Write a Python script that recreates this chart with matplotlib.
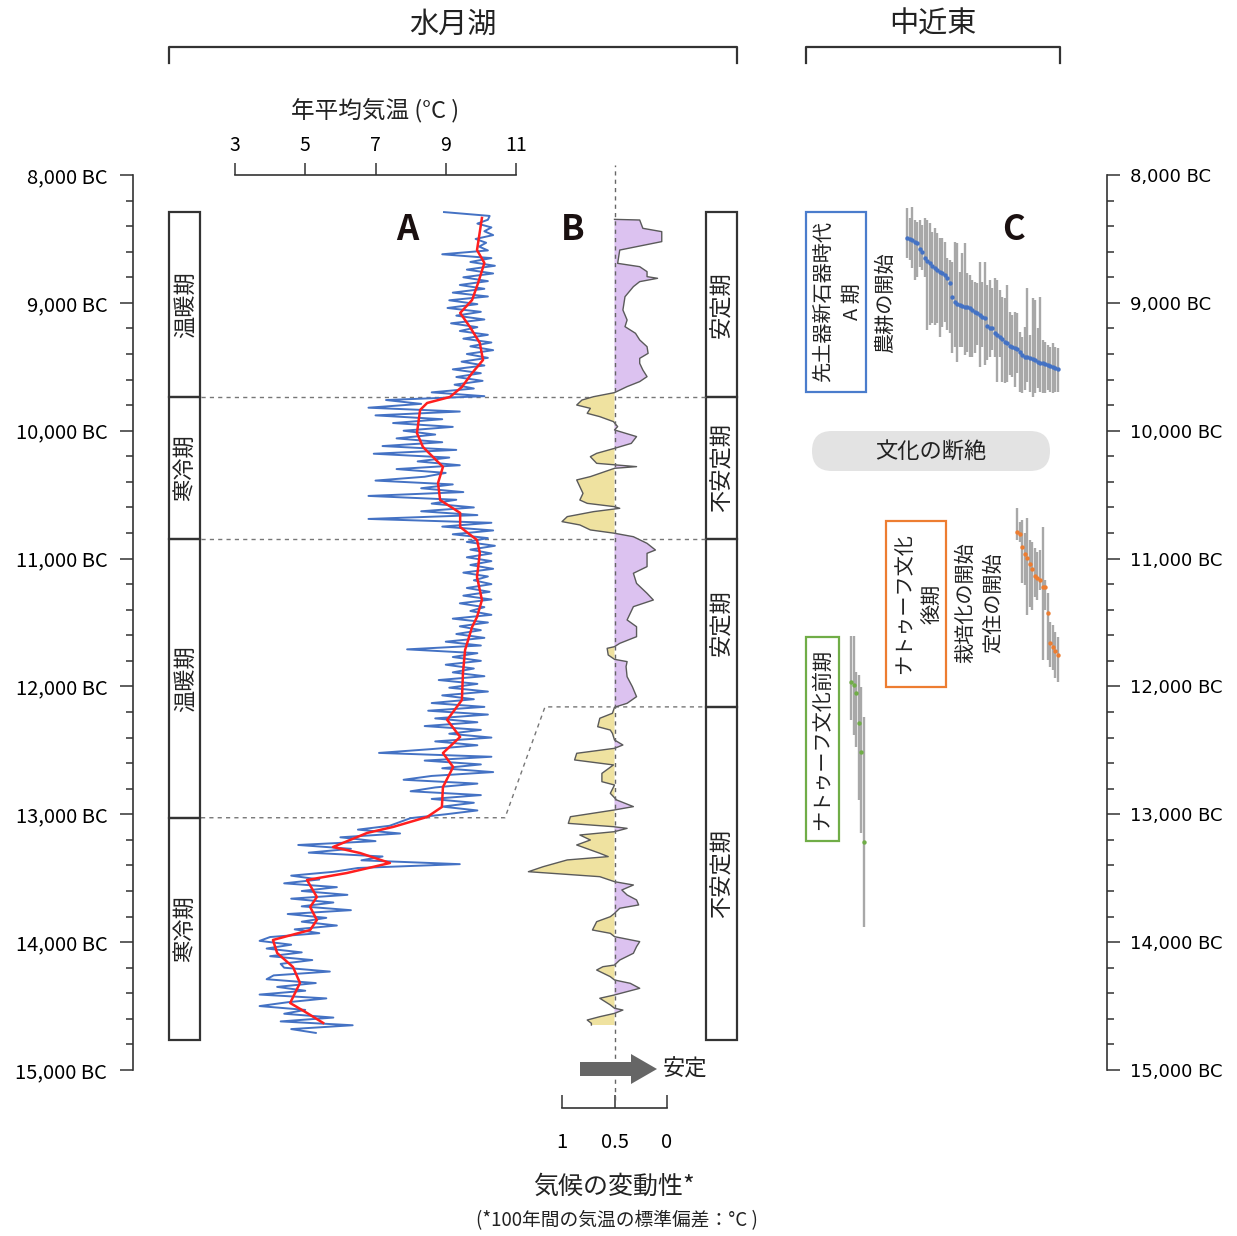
import matplotlib

matplotlib.use("Agg")
import matplotlib.pyplot as plt
import matplotlib.transforms as mtransforms
import numpy as np
from matplotlib.patches import FancyBboxPatch, FancyArrow, Rectangle

plt.rcParams["font.family"] = ["Noto Sans CJK JP", "DejaVu Sans"]
plt.rcParams["text.color"] = "#222222"

W, H = 1237, 1236

# --- A: annual mean temperature (Lake Suigetsu) ---
temp_years = np.arange(8290, 14711, 30)
temp_raw = [
    8.95, 10.25, 10.2, 9.9, 10.3, 10.1, 10.35, 9.85, 10.15, 9.95,
    10.2, 8.9, 10.3, 9.7, 10.4, 9.6, 10.35, 9.5, 10.2, 9.4,
    10.1, 9.2, 10.2, 9.1, 9.9, 9.05, 10.0, 9.3, 10.1, 9.15,
    9.9, 9.4, 10.2, 9.5, 10.3, 9.7, 10.35, 9.6, 10.2, 9.45,
    10.1, 9.2, 10.0, 9.3, 10.05, 9.25, 9.8, 8.6, 10.1, 7.3,
    8.3, 6.8, 9.4, 7.0, 8.9, 7.5, 9.2, 7.8, 8.7, 7.6,
    8.9, 7.2, 9.3, 6.95, 9.1, 8.2, 9.4, 7.6, 9.0, 8.4,
    7.0, 9.2, 8.3, 9.5, 6.8, 9.3, 8.6, 9.8, 8.3, 9.9,
    6.8, 10.3, 8.9, 10.35, 9.2, 10.2, 9.6, 10.4, 9.7, 10.3,
    9.6, 10.3, 9.7, 10.35, 9.5, 10.2, 9.8, 10.3, 9.6, 10.25,
    9.5, 10.3, 9.4, 10.1, 9.7, 10.3, 9.2, 10.2, 9.4, 10.0,
    9.3, 10.1, 9.0, 10.0, 7.9, 9.9, 9.2, 10.0, 9.0, 9.8,
    9.2, 10.1, 8.8, 9.9, 9.1, 10.2, 8.9, 9.8, 8.6, 10.1,
    8.5, 10.2, 8.7, 9.9, 8.4, 10.0, 9.1, 10.3, 8.7, 9.9,
    8.6, 7.1, 10.3, 8.4, 10.0, 8.9, 10.35, 8.6, 7.8, 9.9,
    8.7, 8.0, 10.0, 8.6, 9.8, 8.9, 9.9, 9.0, 8.0, 7.7,
    7.4, 6.5, 7.7, 6.0, 7.0, 4.8, 6.3, 5.1, 7.2, 6.6,
    9.4, 6.5, 5.8, 4.6, 5.4, 4.4, 5.9, 4.9, 6.2, 4.6,
    5.8, 4.9, 6.3, 4.5, 5.6, 4.9, 5.9, 4.7, 5.4, 4.0,
    3.7, 4.6, 3.9, 4.9, 4.0, 5.2, 4.3, 4.4, 5.7, 4.1,
    3.9, 5.3, 4.2, 5.0, 3.7, 5.6, 4.5, 3.7, 5.0, 4.4,
    5.8, 4.3, 6.35, 4.6, 5.3,
]
smooth_years = [
    8336, 8587, 8688, 8845, 8978, 9079, 9189, 9314, 9447, 9549, 9658, 9736,
    9783, 9838, 10018, 10127, 10283, 10409, 10542, 10643, 10753, 10855, 10956,
    11144, 11324, 11457, 11535, 11715, 11895, 12106, 12262, 12395, 12521, 12630,
    12787, 12943, 13021, 13099, 13146, 13256, 13303, 13381, 13459, 13514, 13647,
    13725, 13827, 13905, 13983, 14085, 14194, 14319, 14476, 14554, 14632,
]
smooth_temp = [
    10.03, 9.89, 10.1, 9.92, 9.75, 9.41, 9.69, 9.97, 10.06, 9.75, 9.46, 9.12,
    8.47, 8.27, 8.18, 8.35, 8.92, 8.78, 8.84, 9.41, 9.41, 9.89, 9.97,
    9.89, 10.03, 9.89, 9.75, 9.55, 9.49, 9.46, 9.04, 9.41, 8.92, 9.21,
    8.92, 8.89, 8.47, 7.5, 6.76, 5.79, 6.56, 7.41, 6.19, 5.05, 5.33,
    5.14, 5.33, 5.14, 4.08, 4.2, 4.65, 4.85, 4.57, 5.05, 5.51,
]
temp_ticks = [3, 5, 7, 9, 11]

# --- B: climate variability (100-yr SD of temperature) ---
var_years = [
    8347, 8352, 8417, 8443, 8521, 8587, 8691, 8717, 8756, 8795, 8808, 8834,
    8873, 8952, 9056, 9134, 9186, 9238, 9290, 9343, 9395, 9434, 9473, 9525,
    9577, 9616, 9655, 9702,
    9734, 9760, 9799, 9825, 9864, 9890, 9929, 9968, 9994, 10046, 10099, 10138,
    10177, 10203, 10255, 10281, 10294, 10359, 10385, 10438, 10490, 10542, 10568,
    10594, 10607, 10633, 10672, 10711, 10737, 10776, 10802,
    10829, 10881, 10933, 10959, 11063, 11115, 11194, 11272, 11324, 11376, 11480,
    11533, 11611, 11663, 11689, 11702, 11754, 11788, 11806, 11845, 11924, 12002,
    12080, 12132, 12163,
    12210, 12249, 12315, 12341, 12367, 12419, 12458, 12484, 12523, 12575, 12614,
    12680, 12745, 12771, 12836, 12888, 12940, 12966, 13019, 13071, 13097, 13110,
    13136, 13162, 13201, 13240, 13305, 13331, 13357, 13410, 13449, 13488, 13527,
    13553, 13592, 13631, 13670, 13709, 13735, 13775, 13801, 13840, 13905, 13931,
    13957, 13996, 14035, 14087, 14140, 14179, 14192, 14218, 14270, 14296, 14322,
    14361, 14387, 14413, 14439, 14491, 14517, 14531, 14557, 14583, 14609, 14635,
    14648,
]
var_values = [
    0.5, 0.26, 0.23, 0.05, 0.05, 0.45, 0.47, 0.26, 0.19, 0.19, 0.09, 0.26,
    0.32, 0.40, 0.42, 0.38, 0.40, 0.30, 0.26, 0.19, 0.18, 0.26, 0.26, 0.23,
    0.19, 0.26, 0.38, 0.5,
    0.70, 0.81, 0.86, 0.73, 0.76, 0.64, 0.51, 0.47, 0.5, 0.29, 0.34, 0.5,
    0.67, 0.73, 0.67, 0.29, 0.5, 0.73, 0.86, 0.83, 0.80, 0.83, 0.76,
    0.5, 0.45, 0.70, 0.95, 1.0, 0.83, 0.73, 0.5,
    0.32, 0.19, 0.11, 0.19, 0.19, 0.32, 0.29, 0.19, 0.13, 0.32, 0.38,
    0.29, 0.29, 0.45, 0.5, 0.57, 0.56, 0.5, 0.38, 0.39, 0.38, 0.33,
    0.29, 0.38, 0.5,
    0.52, 0.64, 0.66, 0.54, 0.52, 0.5, 0.42, 0.5, 0.86, 0.88, 0.51,
    0.62, 0.62, 0.5, 0.54, 0.48, 0.32, 0.5, 0.92, 0.94, 0.51, 0.38,
    0.5, 0.83, 0.73, 0.86, 0.64, 0.56, 0.95, 1.18, 1.32, 0.64, 0.5,
    0.32, 0.43, 0.38, 0.29, 0.27, 0.45, 0.5, 0.54, 0.67, 0.71, 0.54,
    0.5, 0.26, 0.29, 0.32, 0.45, 0.5, 0.61, 0.67, 0.54, 0.5, 0.35,
    0.26, 0.38, 0.5, 0.64, 0.54, 0.5, 0.42, 0.5, 0.64, 0.76, 0.72,
    0.72,
]
var_ticks = [1, 0.5, 0]
var_ticklabels = ["1", "0.5", "0"]

# --- C: radiocarbon dates, Near East ---
ppna_years = [
    8490, 8501, 8508, 8522, 8534, 8581, 8600, 8651, 8673, 8691, 8712, 8730,
    8743, 8756, 8764, 8782, 8808, 8847, 8952, 8996, 9009, 9017, 9025, 9030,
    9030, 9038, 9056, 9069, 9082, 9095, 9108, 9121, 9181, 9194, 9199, 9238,
    9251, 9264, 9285, 9304, 9316, 9337, 9343, 9355, 9363, 9382, 9408, 9421,
    9426, 9434, 9442, 9447, 9460, 9468, 9473, 9478, 9486, 9494, 9499, 9512,
    9520,
]
ppna_top = [
    8261, 8339, 8248, 8352, 8365, 8352, 8391, 8339, 8352, 8378, 8443, 8417,
    8456, 8495, 8495, 8521, 8652, 8665, 8678, 8521, 8534, 8756, 8613, 8534,
    8769, 8782, 8821, 8834, 8847, 8678, 8834, 8678, 8860, 8821, 8886, 8808,
    8821, 8899, 8951, 8964, 8860, 9069, 9095, 9069, 9082, 9225, 9264, 9186,
    8886, 9251, 8964, 8977, 9199, 8951, 9290, 9303, 9329, 9342, 9316, 9342,
    9355,
]
ppna_bottom = [
    8652, 8665, 8730, 8821, 8795, 8717, 8743, 8795, 9212, 9173, 9160, 9173,
    9160, 9264, 9186, 9147, 9212, 9238, 9394, 9342, 9460, 9342, 9342, 9407,
    9381, 9420, 9420, 9394, 9329, 9499, 9342, 9486, 9447, 9420, 9368, 9420,
    9616, 9420, 9616, 9629, 9616, 9564, 9577, 9655, 9551, 9694, 9707, 9681,
    9616, 9694, 9733, 9707, 9668, 9694, 9707, 9707, 9681, 9694, 9707, 9694,
    9694,
]
late_years = [10790, 10808, 10907, 10967, 10998, 11043, 11084, 11136, 11155,
              11168, 11220, 11225, 11428, 11658, 11689, 11720, 11754]
late_top = [10607, 10711, 10698, 10802, 10685, 10855, 10868, 10920, 10946,
            10933, 10750, 11167, 11272, 11493, 11519, 11572, 11611]
late_bottom = [10855, 10868, 11194, 11207, 11441, 11376, 11402, 11298, 11324,
               11246, 11793, 11402, 11793, 11845, 11871, 11937, 11963]
early_years = [11965, 11989, 12051, 12286, 12513, 13217]
early_top = [11606, 11606, 11887, 11911, 12005, 12239]
early_bottom = [12263, 12380, 12474, 12888, 13146, 13881]

year_ticks = [8000, 9000, 10000, 11000, 12000, 13000, 14000, 15000]
year_labels = ["8,000 BC", "9,000 BC", "10,000 BC", "11,000 BC",
               "12,000 BC", "13,000 BC", "14,000 BC", "15,000 BC"]
year_minor = [y for y in range(8000, 15001, 200)]

period_edges = [8289, 9736, 10846, 13027, 14763]
period_labels = ["温暖期", "寒冷期", "温暖期", "寒冷期"]
stability_edges = [8289, 9736, 10846, 12160, 14763]
stability_labels = ["安定期", "不安定期", "安定期", "不安定期"]


def rect(x0, y0, x1, y1):
    return [x0 / W, 1 - y1 / H, (x1 - x0) / W, (y1 - y0) / H]


fig = plt.figure(figsize=(W / 100, H / 100), dpi=100)
fig.patch.set_facecolor("white")

ov = fig.add_axes([0, 0, 1, 1])
ov.set_xlim(0, W)
ov.set_ylim(H, 0)
ov.axis("off")
ov.set_autoscale_on(False)

axA = fig.add_axes(rect(235, 175, 516, 1070))
axB = fig.add_axes(rect(562, 175, 667, 1070))
axC = fig.add_axes(rect(780, 175, 1107, 1070))
for ax in (axA, axB, axC):
    ax.set_facecolor("none")
    ax.set_ylim(15000, 8000)
    for s in ax.spines.values():
        s.set_visible(False)
        s.set_linewidth(1.2)
        s.set_color("#333333")

# panel A
axA.set_xlim(3, 11)
axA.plot(temp_raw, temp_years, color="#4472c4", lw=1.4, zorder=2)
axA.plot(smooth_temp, smooth_years, color="#ff1f1f", lw=1.8, zorder=3)
axA.spines["top"].set_visible(True)
axA.spines["left"].set_visible(True)
axA.spines["left"].set_position(("outward", 102 * 0.72))
axA.xaxis.tick_top()
axA.set_xticks(temp_ticks)
axA.tick_params(axis="x", direction="out", length=8.5, width=1.1,
                color="#333333", labelsize=14, pad=5)
axA.set_yticks(year_ticks)
axA.set_yticklabels(year_labels)
axA.set_yticks(year_minor, minor=True)
axA.tick_params(axis="y", which="major", length=9.5, width=1.1,
                color="#333333", labelsize=14.5, pad=9)
axA.tick_params(axis="y", which="minor", length=5, width=1.1, color="#333333")

# panel B
axB.set_xlim(1, 0)
v = np.array(var_values)
axB.fill_betweenx(var_years, var_values, 0.5, where=v >= 0.5, interpolate=True,
                  color="#efe2a0", lw=0, clip_on=False)
axB.fill_betweenx(var_years, var_values, 0.5, where=v <= 0.5, interpolate=True,
                  color="#dcc2f0", lw=0, clip_on=False)
axB.plot(var_values, var_years, color="#5a5a5a", lw=1.0, clip_on=False)
axB.axvline(0.5, ymin=-0.034, ymax=1.011, clip_on=False, color="#666666",
            lw=1, ls=(0, (3, 3)))
axB.spines["bottom"].set_visible(True)
axB.spines["bottom"].set_position(("outward", 38 * 0.72))
axB.set_xticks(var_ticks)
axB.set_xticklabels(var_ticklabels)
axB.tick_params(axis="x", direction="in", length=9.5, width=1.1,
                color="#333333", labelsize=14.5, pad=17)
axB.set_yticks([])

# panel C
axC.set_xlim(780, 1107)
axC.set_xticks([])
axC.spines["right"].set_visible(True)
axC.yaxis.tick_right()
axC.set_yticks(year_ticks)
axC.set_yticklabels(year_labels)
axC.set_yticks(year_minor, minor=True)
axC.tick_params(axis="y", which="major", direction="out", length=9.5, width=1.1,
                color="#333333", labelsize=13, pad=7, labelfontfamily="DejaVu Sans")
axC.tick_params(axis="y", which="minor", direction="out", length=5, width=1.1,
                color="#333333")

groups = [
    (907, 2.51, ppna_years, ppna_top, ppna_bottom, "#4472c4"),
    (1017, 2.56, late_years, late_top, late_bottom, "#ed7d31"),
    (851, 2.6, early_years, early_top, early_bottom, "#70ad47"),
]
for x0, step, yrs, tops, bots, col in groups:
    xs = x0 + step * np.arange(len(yrs))
    axC.vlines(xs, tops, bots, color="#a8a8a8", lw=1.7, zorder=2)
    axC.scatter(xs, yrs, s=10, color=col, lw=0, zorder=3)

# overlay: period boxes, brackets, labels
trans = mtransforms.blended_transform_factory(ov.transData, axA.transData)
for x0, edges, labels in ((169, period_edges, period_labels),
                          (706, stability_edges, stability_labels)):
    for y0, y1, lab in zip(edges[:-1], edges[1:], labels):
        ov.add_patch(Rectangle((x0, y0), 31, y1 - y0, transform=trans, fill=False,
                               ec="#333333", lw=1.6))
        ov.text(x0 + 16, (y0 + y1) / 2, lab, transform=trans, rotation=90,
                ha="center", va="center", fontsize=16)

dash = dict(color="#777777", lw=1.0, ls=(0, (3, 3)), transform=trans)
ov.plot([201, 706], [period_edges[1]] * 2, **dash)
ov.plot([201, 706], [period_edges[2]] * 2, **dash)
ov.plot([201, 505, 545, 706],
        [period_edges[3], period_edges[3], stability_edges[3], stability_edges[3]], **dash)

for xa, xb, label in ((169, 737, "水月湖"), (806, 1060, "中近東")):
    ov.plot([xa, xa, xb, xb], [63, 47, 47, 63], color="#333333", lw=1.6)
    ov.text((xa + xb) / 2, 25, label, ha="center", va="center", fontsize=21)

ov.text(375, 110, "年平均気温 (°C )", ha="center", va="center", fontsize=17)
for x, lab in ((407, "A"), (573, "B"), (1013, "C")):
    ov.text(x, 229, lab, ha="center", va="center", fontsize=25, fontweight="bold",
            color="#1a1010")

ov.add_patch(Rectangle((806, 212), 60, 180, fill=False, ec="#4a7ccc", lw=1.6))
ov.text(838, 302, "先土器新石器時代\nA 期", rotation=90, ha="center", va="center",
        fontsize=14.5, linespacing=1.45, multialignment="center")
ov.text(886, 303, "農耕の開始", rotation=90, ha="center", va="center", fontsize=14.5)

ov.add_patch(FancyBboxPatch((812, 431), 238, 40,
                            boxstyle="round,pad=0,rounding_size=20",
                            fc="#e3e3e3", ec="none"))
ov.text(931, 451, "文化の断絶", ha="center", va="center", fontsize=16)

ov.add_patch(Rectangle((886, 521), 60, 166, fill=False, ec="#ed7d31", lw=1.6))
ov.text(919, 604, "ナトゥーフ文化\n後期", rotation=90, ha="center", va="center",
        fontsize=14.5, linespacing=1.45, multialignment="center")
ov.text(979.5, 603, "栽培化の開始\n定住の開始", rotation=90, ha="center", va="center",
        fontsize=14.5, linespacing=1.45, multialignment="center")

ov.add_patch(Rectangle((806, 637), 33, 204, fill=False, ec="#70ad47", lw=1.6))
ov.text(822.5, 739, "ナトゥーフ文化前期", rotation=90, ha="center", va="center",
        fontsize=14.5)

ov.add_patch(FancyArrow(580, 1069, 77, 0, width=14, head_width=30, head_length=26,
                        length_includes_head=True, color="#666666", lw=0))
ov.text(663, 1069, "安定", ha="left", va="center", fontsize=16)
ov.text(614, 1187, "気候の変動性*", ha="center", va="center", fontsize=18)
ov.text(617, 1221, "(*100年間の気温の標準偏差：°C )", ha="center", va="center",
        fontsize=13.5)

fig.savefig("out.png", dpi=100)
plt.close(fig)
